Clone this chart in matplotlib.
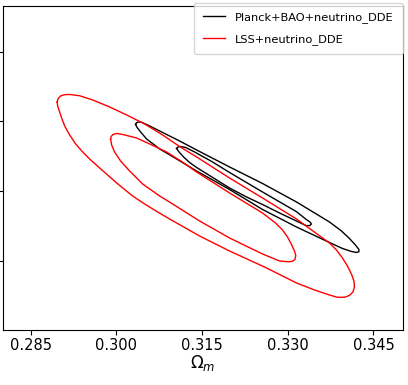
import matplotlib
matplotlib.use('Agg')
import matplotlib.pyplot as plt

# Kontury (68% i 95%): Omega_m vs sigma_8
# Planck+BAO+neutrino_DDE - kontur zewnętrzny
pb_outer_om = [0.30337, 0.30354, 0.30389, 0.30442, 0.30582, 0.30809, 0.31106, 0.31404,
               0.31981, 0.32558, 0.33153, 0.33730, 0.33940, 0.34080, 0.34185, 0.34246,
               0.34246, 0.34203, 0.34115, 0.33958, 0.33730, 0.33153, 0.32558, 0.31981,
               0.31404, 0.30966, 0.30757, 0.30529, 0.30424, 0.30363]
pb_outer_s8 = [0.81910, 0.81959, 0.81982, 0.81973, 0.81867, 0.81680, 0.81436, 0.81178,
               0.80690, 0.80216, 0.79685, 0.79111, 0.78853, 0.78637, 0.78451, 0.78322,
               0.78256, 0.78235, 0.78264, 0.78350, 0.78522, 0.78967, 0.79470, 0.80044,
               0.80575, 0.81006, 0.81207, 0.81494, 0.81695, 0.81824]
# Planck+BAO+neutrino_DDE - kontur wewnętrzny
pb_inner_om = [0.31054, 0.31080, 0.31124, 0.31211, 0.31369, 0.31684, 0.31981, 0.32558,
               0.33153, 0.33323, 0.33389, 0.33415, 0.33389, 0.33323, 0.33206, 0.32856,
               0.32558, 0.32278, 0.31981, 0.31404, 0.31281, 0.31176, 0.31098]
pb_inner_s8 = [0.81221, 0.81264, 0.81278, 0.81250, 0.81120, 0.80833, 0.80532, 0.79972,
               0.79407, 0.79183, 0.79111, 0.79054, 0.79008, 0.79005, 0.79097, 0.79369,
               0.79613, 0.79829, 0.80087, 0.80676, 0.80819, 0.80977, 0.81120]
# LSS+neutrino_DDE - kontur zewnętrzny
lss_outer_om = [0.28964, 0.28981, 0.29025, 0.29095, 0.29182, 0.29357, 0.29585, 0.29882,
                0.30179, 0.30494, 0.30809, 0.31106, 0.31404, 0.31981, 0.32558, 0.33153,
                0.33730, 0.33853, 0.33958, 0.34045, 0.34115, 0.34159, 0.34168, 0.34142,
                0.34080, 0.33993, 0.33870, 0.33730, 0.33468, 0.33153, 0.32593, 0.31981,
                0.31456, 0.30931, 0.30722, 0.30494, 0.30284, 0.30004, 0.29707, 0.29550,
                0.29410, 0.29287, 0.29182, 0.29095, 0.29042, 0.29007, 0.28972]
lss_outer_s8 = [0.82556, 0.82656, 0.82728, 0.82765, 0.82771, 0.82734, 0.82613, 0.82412,
                0.82183, 0.81924, 0.81609, 0.81278, 0.80977, 0.80374, 0.79800, 0.79197,
                0.78508, 0.78307, 0.78078, 0.77848, 0.77618, 0.77417, 0.77245, 0.77101,
                0.77001, 0.76949, 0.76949, 0.77015, 0.77159, 0.77360, 0.77819, 0.78278,
                0.78709, 0.79197, 0.79398, 0.79628, 0.79857, 0.80231, 0.80661, 0.80891,
                0.81120, 0.81350, 0.81609, 0.81867, 0.82097, 0.82269, 0.82441]
# LSS+neutrino_DDE - kontur wewnętrzny
lss_inner_om = [0.29899, 0.29908, 0.29943, 0.30004, 0.30109, 0.30354, 0.30582, 0.30879,
                0.31141, 0.31404, 0.31981, 0.32558, 0.32786, 0.32908, 0.32996, 0.33066,
                0.33118, 0.33141, 0.33127, 0.33083, 0.33013, 0.32856, 0.32558, 0.31981,
                0.31456, 0.30984, 0.30757, 0.30459, 0.30232, 0.30074, 0.29969, 0.29917]
lss_inner_s8 = [0.81494, 0.81565, 0.81623, 0.81652, 0.81623, 0.81522, 0.81350, 0.81120,
                0.80848, 0.80546, 0.79944, 0.79369, 0.79082, 0.78881, 0.78680, 0.78465,
                0.78278, 0.78149, 0.78034, 0.77983, 0.77968, 0.77991, 0.78192, 0.78652,
                0.79140, 0.79628, 0.79857, 0.80202, 0.80575, 0.80862, 0.81120, 0.81321]

x_ticks = [0.285, 0.300, 0.315, 0.330, 0.345]
y_ticks = [0.78, 0.80, 0.82, 0.84]


def closed(a):
    return list(a) + [a[0]]


fig = plt.figure(figsize=(4.08, 3.85), dpi=100)
ax = fig.add_axes([0.0066, 0.1429, 0.98, 0.8415])

style = dict(linewidth=1.0, solid_joinstyle='round')
ax.plot(closed(pb_outer_om), closed(pb_outer_s8), color='black',
        label='Planck+BAO+neutrino_DDE', **style)
ax.plot(closed(pb_inner_om), closed(pb_inner_s8), color='black', **style)
ax.plot(closed(lss_outer_om), closed(lss_outer_s8), color='red',
        label='LSS+neutrino_DDE', **style)
ax.plot(closed(lss_inner_om), closed(lss_inner_s8), color='red', **style)

ax.set_xlim(0.2801, 0.3501)
ax.set_ylim(0.7601, 0.8531)
ax.set_xticks(x_ticks)
ax.set_xticklabels([f'{v:.3f}' for v in x_ticks], fontsize=10.5)
ax.tick_params(axis='x', pad=2.5)
# etykiety osi Y są w oryginale ucięte - zostają tylko znaczniki
ax.set_yticks(y_ticks)
ax.tick_params(axis='y', labelleft=False)
ax.set_xlabel(r'$\Omega_m$', fontsize=12, labelpad=0)

ax.legend(loc='upper right', bbox_to_anchor=(1.0, 1.01), borderaxespad=0.0,
          fontsize=8.2, handlelength=1.9, handletextpad=0.9, labelspacing=1.0,
          borderpad=0.8)

plt.savefig('out.png', dpi=100)
